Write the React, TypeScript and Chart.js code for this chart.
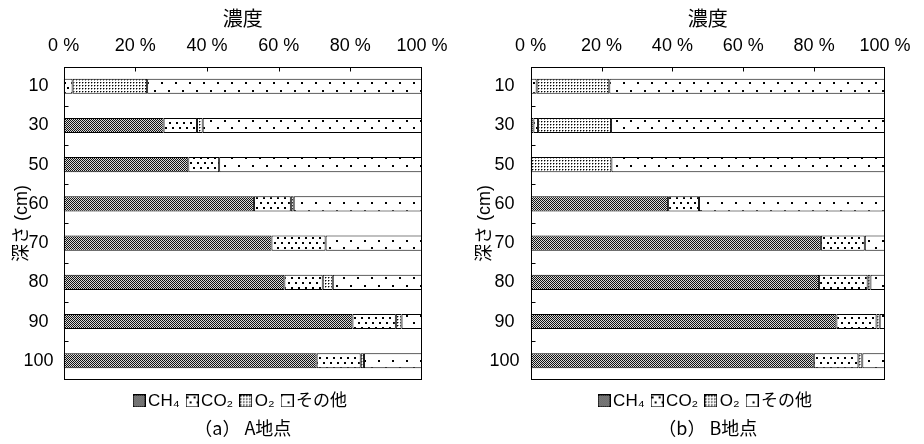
import React, { useEffect, useRef } from 'react';
import { Chart, registerables } from 'chart.js';

Chart.register(...registerables);

// ---- data ----
const depths = ['10', '30', '50', '60', '70', '80', '90', '100'];
const xTickValues = [0, 20, 40, 60, 80, 100];
const seriesNames = ['CH₄', 'CO₂', 'O₂', 'その他'];
const patternKinds = ['ch4', 'co2', 'o2', 'other'];

const ch4A = [0, 27.9, 34.8, 53.1, 58.0, 61.6, 80.6, 70.6];
const co2A = [2.5, 9.3, 8.6, 10.3, 15.1, 10.7, 12.1, 12.3];
const o2A = [20.8, 1.6, 0, 0.8, 0, 2.8, 1.6, 0.9];
const otherA = [76.7, 61.2, 56.6, 35.8, 26.9, 24.9, 5.7, 16.2];

const ch4B = [0, 0.8, 0, 38.8, 81.9, 81.4, 86.3, 79.9];
const co2B = [1.7, 1.3, 0, 8.7, 12.4, 13.7, 11.3, 12.6];
const o2B = [20.5, 20.6, 22.8, 0, 0, 0.8, 0.9, 1.1];
const otherB = [77.8, 77.3, 77.2, 52.5, 5.7, 4.1, 1.5, 6.4];

const axisTitleX = '濃度';
const axisTitleY = '深さ (cm)';
const captionA = '（a） A地点';
const captionB = '（b） B地点';

const LATIN = 'Liberation Sans, Arial, sans-serif';
const MIXED = "'Liberation Sans', 'Noto Sans CJK JP', sans-serif";
const CJK = "'Noto Sans CJK JP', sans-serif";

function makeTile(kind: string): HTMLCanvasElement {
  const c = document.createElement('canvas');
  const g = c.getContext('2d')!;
  if (kind === 'ch4') {
    c.width = 2; c.height = 2;
    g.fillStyle = '#d8d8d8'; g.fillRect(0, 0, 2, 2);
    g.fillStyle = '#111'; g.fillRect(0, 0, 1, 1); g.fillRect(1, 1, 1, 1);
  } else if (kind === 'co2') {
    c.width = 7; c.height = 10;
    g.fillStyle = '#fff'; g.fillRect(0, 0, 7, 10);
    g.fillStyle = '#000'; g.fillRect(1, 2, 2, 2); g.fillRect(4, 7, 2, 2);
  } else if (kind === 'o2') {
    c.width = 3; c.height = 3;
    g.fillStyle = '#fff'; g.fillRect(0, 0, 3, 3);
    g.fillStyle = '#000'; g.fillRect(1, 1, 1, 1);
    g.fillStyle = '#999'; g.fillRect(2, 1, 1, 1); g.fillRect(1, 2, 1, 1);
  } else {
    c.width = 14; c.height = 15;
    g.fillStyle = '#fff'; g.fillRect(0, 0, 14, 15);
    g.fillStyle = '#000'; g.fillRect(0, 0, 2, 2); g.fillRect(7, 7, 2, 2);
  }
  return c;
}

function makePattern(kind: string): CanvasPattern | string {
  const g = document.createElement('canvas').getContext('2d')!;
  return g.createPattern(makeTile(kind), 'repeat') || '#888';
}

function makeLegendIcon(kind: string): HTMLCanvasElement {
  const c = document.createElement('canvas');
  c.width = 13; c.height = 13;
  const g = c.getContext('2d')!;
  const p = g.createPattern(makeTile(kind), 'repeat');
  g.fillStyle = p || '#888';
  g.fillRect(0, 0, 13, 13);
  g.strokeStyle = '#000';
  g.lineWidth = 1;
  g.strokeRect(0.5, 0.5, 12, 12);
  return c;
}

const framePlugin = {
  id: 'frame',
  afterDatasetsDraw(chart: any) {
    const { ctx, chartArea: a, scales } = chart;
    const x = scales.x;
    const y = scales.y;
    ctx.save();
    ctx.strokeStyle = '#000';
    ctx.lineWidth = 1;
    const l = Math.round(a.left) + 0.5;
    const t = Math.round(a.top) + 0.5;
    const r = Math.round(a.right) - 0.5;
    const b = Math.round(a.bottom) - 0.5;
    ctx.strokeRect(l, t, r - l, b - t);
    ctx.beginPath();
    x.ticks.forEach((tk: any) => {
      if (tk.value > 0 && tk.value < 100) {
        const px = Math.round(x.getPixelForValue(tk.value)) + 0.5;
        ctx.moveTo(px, t);
        ctx.lineTo(px, t + 4);
      }
    });
    for (let i = 0; i < depths.length - 1; i++) {
      const py = Math.round((y.getPixelForValue(i) + y.getPixelForValue(i + 1)) / 2) + 0.5;
      ctx.moveTo(l, py);
      ctx.lineTo(l + 4, py);
    }
    ctx.stroke();
    ctx.restore();
  },
};

type PanelProps = {
  ch4: number[]; co2: number[]; o2: number[]; other: number[];
  caption: string; padLeft: number; padRight: number; tickPad: number;
  yTitleTop: number; yTitleBottom: number;
};

function Panel(props: PanelProps) {
  const ref = useRef<HTMLCanvasElement>(null);
  useEffect(() => {
    const canvas = ref.current!;
    const pats = patternKinds.map(makePattern);
    const icons = patternKinds.map(makeLegendIcon);
    const values = [props.ch4, props.co2, props.o2, props.other];
    const chart = new Chart(canvas, {
      type: 'bar',
      data: {
        labels: depths,
        datasets: values.map((v, i) => ({
          label: seriesNames[i],
          data: v,
          backgroundColor: pats[i] as any,
          borderColor: '#000',
          borderWidth: 1,
          borderSkipped: false,
          categoryPercentage: 1,
          barPercentage: 0.385,
        })),
      },
      options: {
        indexAxis: 'y',
        responsive: false,
        devicePixelRatio: 1,
        animation: false,
        layout: { padding: { left: props.padLeft, right: props.padRight, top: 0, bottom: 0 } },
        scales: {
          x: {
            type: 'linear',
            position: 'top',
            stacked: true,
            min: 0,
            max: 100,
            afterBuildTicks: (s: any) => { s.ticks = xTickValues.map((v) => ({ value: v })); },
            ticks: {
              callback: (v: any) => v + ' %',
              font: { family: LATIN, size: 18 },
              color: '#000',
              padding: 10,
              maxRotation: 0,
              autoSkip: false,
            },
            grid: { display: false, drawTicks: false, tickLength: 0 },
            border: { display: false },
          },
          y: {
            type: 'category',
            stacked: true,
            offset: true,
            ticks: {
              font: { family: LATIN, size: 18 },
              color: '#000',
              crossAlign: 'center',
              padding: props.tickPad,
            },
            grid: { display: false, drawTicks: false, tickLength: 0 },
            border: { display: false },
            title: {
              display: true,
              text: axisTitleY,
              font: { family: MIXED, size: 18 },
              color: '#000',
              padding: { top: props.yTitleTop, bottom: props.yTitleBottom },
            },
          },
        },
        plugins: {
          tooltip: { enabled: false },
          title: {
            display: true,
            text: axisTitleX,
            position: 'top',
            fullSize: false,
            font: { family: CJK, size: 20, weight: 'normal' },
            color: '#000',
            padding: { top: 6, bottom: -5 },
          },
          subtitle: {
            display: true,
            text: props.caption,
            position: 'bottom',
            fullSize: false,
            font: { family: CJK, size: 18, weight: 'normal' },
            color: '#000',
            padding: { top: -2, bottom: 5 },
          },
          legend: {
            display: true,
            position: 'bottom',
            fullSize: false,
            labels: {
              usePointStyle: true,
              pointStyleWidth: 1,
              boxHeight: 12,
              padding: 12,
              color: '#000',
              font: { family: MIXED, size: 17 },
              generateLabels: (ch: any) =>
                ch.data.datasets.map((ds: any, i: number) => ({
                  text: ds.label,
                  fillStyle: '#fff',
                  strokeStyle: '#000',
                  lineWidth: 1,
                  hidden: false,
                  datasetIndex: i,
                  pointStyle: icons[i],
                  fontColor: '#000',
                })),
            },
          },
        },
      },
      plugins: [framePlugin],
    } as any);
    return () => chart.destroy();
  }, []);
  return <canvas ref={ref} width={462} height={444} style={{ display: 'block' }} />;
}

export default function App() {
  return (
    <div style={{ position: 'absolute', left: 0, top: 0, width: 924, height: 444, display: 'flex', background: '#fff' }}>
      <Panel ch4={ch4A} co2={co2A} o2={o2A} other={otherA} caption={captionA}
        padLeft={8} padRight={40} tickPad={10} yTitleTop={3} yTitleBottom={-19} />
      <Panel ch4={ch4B} co2={co2B} o2={o2B} other={otherB} caption={captionB}
        padLeft={12} padRight={39} tickPad={11} yTitleTop={0} yTitleBottom={-17} />
    </div>
  );
}
